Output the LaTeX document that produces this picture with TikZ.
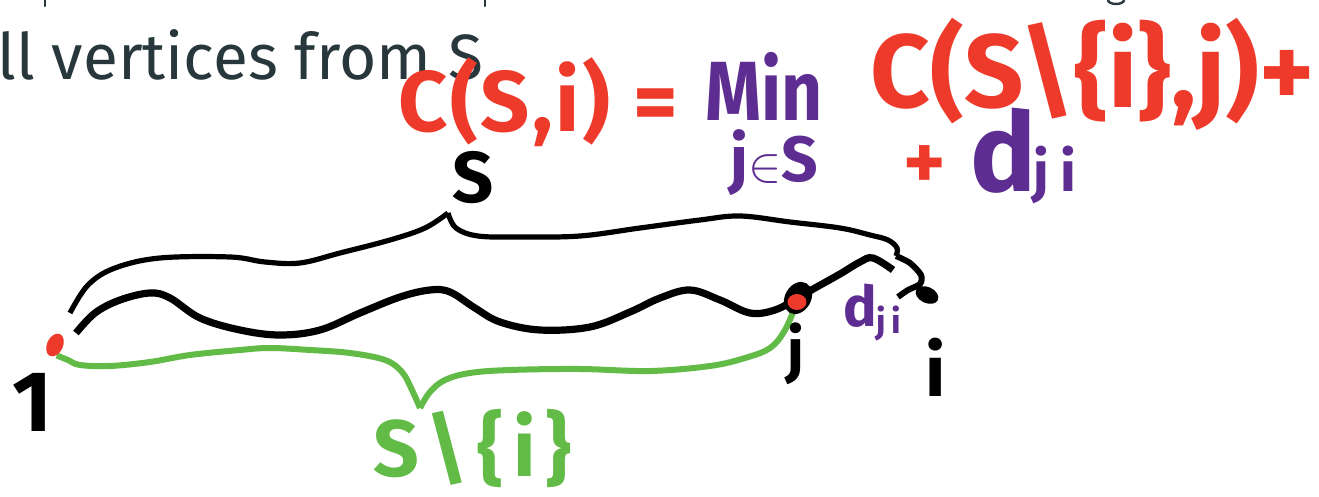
\documentclass[tikz,border=0pt]{standalone}
\usepackage{fontspec}
\usetikzlibrary{shapes.geometric}
\setmainfont{Fira Sans}
\newfontfamily\hand{Fira Sans}
\definecolor{txtgray}{HTML}{27373C}
\definecolor{hred}{HTML}{EE3A2A}
\definecolor{hpurple}{HTML}{5E2D91}
\definecolor{hgreen}{HTML}{62BB46}
\pgfdeclarelayer{bg}
\pgfsetlayers{bg,main}
\begin{document}
\begin{tikzpicture}[x=0.5pt,y=-0.5pt,line cap=round,line join=round,
  inkline/.style={draw=black,line width=#1},
  greenline/.style={draw=hgreen,line width=3pt},
  handtxt/.style={inner sep=0pt,font=\hand\bfseries},
  dotnode/.style={ellipse,inner sep=0pt}]
\begin{pgfonlayer}{bg}
\fill[white] (0,0) rectangle (1319,497);
\end{pgfonlayer}
\useasboundingbox (0,0) rectangle (1319,497);
% descenders of the line above
\draw[txtgray,line width=1.2pt] (45,0) -- (45,6);
\draw[txtgray,line width=1.2pt] (485,0) -- (485,6);
\draw[txtgray,line width=1.2pt] (1108,0) arc[start angle=180,end angle=360,x radius=8,y radius=-4];
% top text
\node[anchor=base west,inner sep=0pt,text=txtgray,font=\fontsize{32}{38}\selectfont] (toptxt) at (-3,80) {ll vertices from S};
% dots
\node[dotnode,fill=hred,minimum width=8pt,minimum height=12pt,rotate=-25] (v1) at (55,345) {};
\node[dotnode,fill=black,minimum width=13pt,minimum height=17pt,rotate=-30] (vj) at (798,298) {};
\node[dotnode,fill=hred,minimum width=9.5pt,minimum height=8pt] (vjr) at (797,302) {};
\node[dotnode,fill=black,minimum width=12pt,minimum height=8pt,rotate=-25] (vi) at (927,295) {};
% curve ends
\coordinate (uStart) at (70,313);
\coordinate (sTip) at (448,213);
\coordinate (uEnd) at (896,256);
\coordinate (mStart) at (76,333);
\coordinate (mEnd) at (893,270);
\coordinate (gTip) at (420,408);
\begin{pgfonlayer}{bg}
% upper curve (brace S)
\draw[inkline=2.6pt] plot[smooth,tension=0.6] coordinates {(uStart) (88,285) (115,268) (160,258) (230,257) (265,262) (300,263) (340,253) (390,240) (425,228) (sTip)};
\draw[inkline=2.6pt] plot[smooth,tension=0.6] coordinates {(sTip) (456,228) (478,236) (520,237) (580,236) (640,228) (700,220) (740,216) (790,222) (840,228) (870,235) (888,240) (897,248) (uEnd)};
% middle wavy curve
\draw[inkline=3.6pt] plot[smooth,tension=0.6] coordinates {(mStart) (95,313) (120,300) (150,293) (170,298) (200,318) (240,330) (280,335) (320,330) (360,313) (400,297) (430,290) (450,292) (475,308) (500,322) (540,330) (590,327) (630,312) (660,298) (690,290) (720,300) (750,313) (775,310) (vj)};
\draw[inkline=3.6pt] plot[smooth,tension=0.6] coordinates {(vj) (815,288) (840,274) (860,262) (873,258) (mEnd)};
\draw[inkline=3pt] plot[smooth,tension=0.5] coordinates {(uEnd) (910,263) (921,275) (920,284) (908,290) (898,297)};
% green brace S\{i}
\draw[greenline] plot[smooth,tension=0.6] coordinates {(v1.south east) (68,360) (80,365) (110,366) (150,362) (190,355) (240,350) (270,348) (310,350) (350,353) (385,360) (402,372) (412,390) (gTip)};
\draw[greenline] plot[smooth,tension=0.6] coordinates {(gTip) (430,392) (445,380) (470,373) (510,370) (580,369) (650,371) (710,366) (745,358) (770,348) (785,330) (vjr)};
\end{pgfonlayer}
% labels
\node[handtxt,anchor=base west,font=\hand\bfseries\fontsize{43}{50}\selectfont] (lab1) at (12,432) {1};
\node[handtxt,anchor=base west,font=\hand\bfseries\fontsize{36}{40}\selectfont] (labS) at (452,203) {S};
\node[handtxt,anchor=base west,font=\hand\bfseries\fontsize{30}{34}\selectfont] (labj) at (787,372) {j};
\node[handtxt,anchor=base west,font=\hand\bfseries\fontsize{36}{40}\selectfont] (labi) at (925,397) {i};
\node[handtxt,anchor=base west,text=hpurple,font=\hand\bfseries\fontsize{28}{32}\selectfont] (labd) at (843,327) {d};
\node[handtxt,anchor=base west,text=hpurple,font=\hand\bfseries\fontsize{17}{20}\selectfont\addfontfeature{LetterSpace=15}] (labdji) at (876,334) {ji};
\node[handtxt,anchor=base west,text=hgreen,font=\hand\bfseries\fontsize{40}{46}\selectfont\addfontfeature{LetterSpace=12}] (labSi) at (373,477) {S\textbackslash\{i\}};
% formula
\node[handtxt,anchor=base west,text=hred,font=\hand\bfseries\fontsize{43}{50}\selectfont\addfontfeature{LetterSpace=3}] (fC) at (398,132) {C(S,i) =};
\node[handtxt,anchor=base west,text=hpurple,font=\hand\bfseries\fontsize{42}{48}\selectfont,xscale=0.85] (fMin) at (705,121) {Min};
\node[handtxt,anchor=base west,text=hpurple,font=\hand\bfseries\fontsize{32}{36}\selectfont\addfontfeature{LetterSpace=6}] (fjs) at (730,182) {j$\in$S};
\node[handtxt,anchor=base west,text=hred,font=\hand\bfseries\fontsize{52}{60}\selectfont] (fC2) at (870,108) {C(S\textbackslash\{i\},j)+};
\node[handtxt,anchor=base west,text=hred,font=\hand\bfseries\fontsize{40}{44}\selectfont] (fplus) at (903,190) {+};
\node[handtxt,anchor=base west,text=hpurple,font=\hand\bfseries\fontsize{55}{60}\selectfont] (fd) at (970,192) {d};
\node[handtxt,anchor=base west,text=hpurple,font=\hand\bfseries\fontsize{28}{32}\selectfont\addfontfeature{LetterSpace=20}] (fji) at (1033,192) {ji};
\end{tikzpicture}
\end{document}
